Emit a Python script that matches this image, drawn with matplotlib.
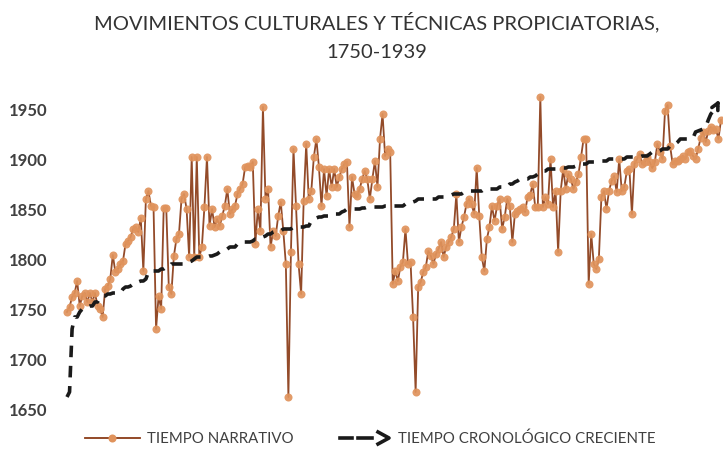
import matplotlib
matplotlib.use("Agg")
import matplotlib.pyplot as plt
from matplotlib.lines import Line2D

plt.rcParams["font.family"] = ["Lato", "DejaVu Sans"]

# tiempo narrativo (años de cada movimiento, en orden de aparición)
narrativo = [
    1747, 1752, 1762, 1766, 1778, 1753, 1763, 1766, 1757, 1766, 1757, 1766, 1753, 1750, 1742,
    1770, 1773, 1780, 1804, 1787, 1790, 1795, 1798, 1815, 1818, 1822, 1830, 1832, 1827, 1841,
    1788, 1860, 1868, 1853, 1852, 1730, 1763, 1750, 1851, 1851, 1772, 1765, 1803, 1820, 1825,
    1860, 1865, 1850, 1802,
    1902, 1802, 1902, 1802, 1812, 1852, 1902, 1833, 1850, 1832, 1840, 1833, 1843, 1853, 1870,
    1845, 1850, 1853, 1865, 1870, 1875, 1892, 1893, 1892, 1897, 1815, 1850, 1828, 1952, 1860,
    1870, 1812, 1828, 1823, 1843, 1857, 1828, 1795, 1662, 1807, 1910, 1853, 1795, 1765, 1858,
    1915, 1860, 1868, 1902, 1920, 1892, 1853, 1890, 1863, 1890, 1872, 1890,
    1872, 1882, 1890, 1895, 1897, 1832, 1882, 1865, 1863, 1870, 1880, 1888, 1880, 1860, 1880,
    1898, 1872, 1920, 1945, 1903, 1910, 1907, 1775, 1788, 1778, 1792, 1797, 1830, 1795, 1797,
    1742, 1667, 1772, 1777, 1787, 1792, 1808, 1803, 1795, 1805, 1810, 1817, 1802, 1812, 1817,
    1822, 1830, 1865, 1817, 1832, 1842, 1855,
    1860, 1855, 1845, 1891, 1843, 1802, 1788, 1820, 1832, 1853, 1838, 1853, 1860, 1830, 1842,
    1860, 1853, 1817, 1845, 1848, 1850, 1852, 1847, 1862, 1864, 1875, 1852, 1852, 1962, 1852,
    1862, 1855, 1900, 1852, 1868, 1807, 1868, 1890, 1870, 1885, 1880, 1870, 1877, 1885, 1902,
    1920, 1920, 1775, 1825,
    1795, 1790, 1800, 1862, 1868, 1850, 1868, 1878, 1883, 1867, 1900, 1868, 1872, 1888, 1890,
    1845, 1895, 1900, 1905, 1895, 1897, 1902, 1897, 1891, 1897, 1915, 1907, 1900, 1948, 1954,
    1913, 1895, 1898, 1898, 1900, 1903, 1900, 1907, 1908, 1903, 1900, 1910, 1921, 1927, 1917,
    1928, 1932, 1929, 1930, 1920, 1939,
]
# tiempo cronológico: los mismos años ordenados
cronologico = sorted(narrativo)
yticks = [1650, 1700, 1750, 1800, 1850, 1900, 1950]

LINE = "#8a3b17"; MARK = "#e0935c"; TXT = "#404040"
n = len(narrativo)
xs = list(range(n))

fig = plt.figure(figsize=(7.23, 4.52), dpi=100)
ax = fig.add_axes([67/723, 1-410/452, 654/723, 315/452])
ax.set_xlim(0, n-1); ax.set_ylim(1650, 1965)

ax.plot(xs, narrativo, color=LINE, lw=1.3, marker="o", ms=5.8, mfc=MARK, mec="none",
        alpha=0.92, zorder=3, clip_on=False)
ax.plot(xs[:-1], cronologico[:-1], color="#1a1a1a", lw=2.6, ls=(0, (3.2, 2.4)),
        zorder=4, clip_on=False)
ax.annotate("", xy=(xs[-1], cronologico[-1]), xytext=(xs[-3], cronologico[-3]),
            arrowprops=dict(arrowstyle="->", color="#1a1a1a", lw=2.6, mutation_scale=12),
            zorder=4, annotation_clip=False)

ax.set_yticks(yticks)
ax.set_yticklabels([str(v) for v in yticks], fontsize=12, fontweight="bold", color=TXT)
ax.set_xticks([])
ax.tick_params(axis="y", length=0, pad=14)
for s in ax.spines.values():
    s.set_visible(False)

fig.text(377/723, 1-22/452, "MOVIMIENTOS CULTURALES Y TÉCNICAS PROPICIATORIAS,",
         ha="center", va="center", fontsize=14.5, color="#333333")
fig.text(377/723, 1-52/452, "1750-1939", ha="center", va="center", fontsize=14.5,
         color="#333333")

# leyenda
ly = 1-439/452
fig.add_artist(Line2D([85/723, 140/723], [ly, ly], color=LINE, lw=1.3))
fig.add_artist(Line2D([112/723], [ly], marker="o", ms=5.8, mfc=MARK, mec="none"))
fig.text(147/723, ly, "TIEMPO NARRATIVO", ha="left", va="center", fontsize=10.8, color=TXT)
fig.add_artist(Line2D([340/723, 352/723], [ly, ly], color="#1a1a1a", lw=2.6))
fig.add_artist(Line2D([358/723, 372/723], [ly, ly], color="#1a1a1a", lw=2.6))
fig.add_artist(Line2D([378/723, 389/723, 378/723], [ly+6/452, ly, ly-6/452],
                      color="#1a1a1a", lw=2.6))
fig.text(398/723, ly, "TIEMPO CRONOLÓGICO CRECIENTE", ha="left", va="center",
         fontsize=10.8, color=TXT)

fig.savefig("out.png", dpi=100)
